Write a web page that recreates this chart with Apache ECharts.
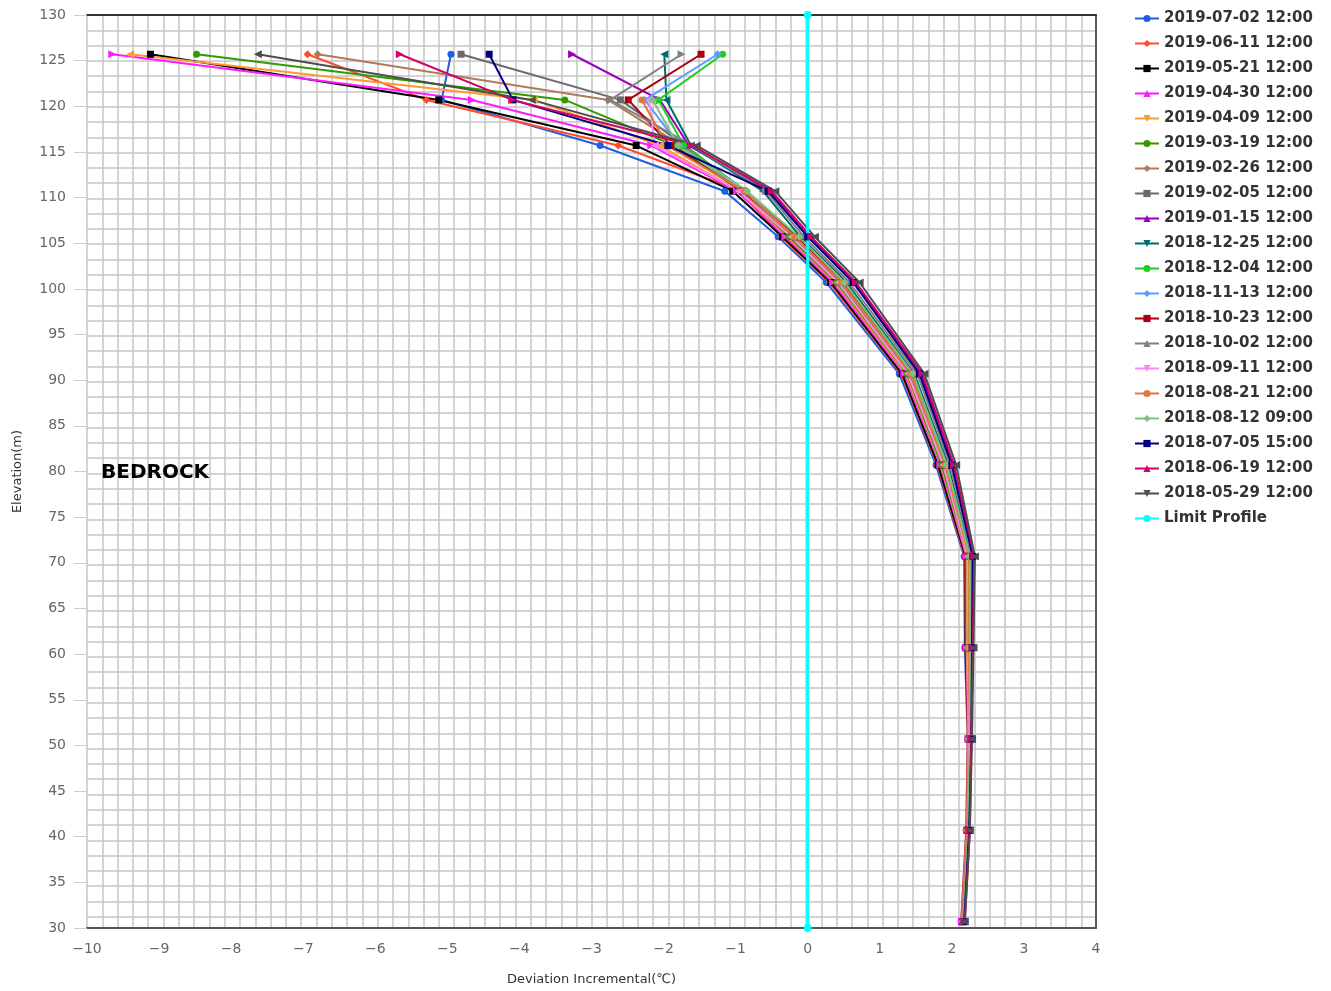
<!DOCTYPE html>
<html>
<head>
<meta charset="utf-8">
<title>Deviation Incremental Profile</title>
<script src="https://cdn.jsdelivr.net/npm/echarts@6/dist/echarts.min.js"></script>
<style>
  html, body { margin: 0; padding: 0; background: #ffffff; }
  #chart { width: 1331px; height: 991px; }
</style>
</head>
<body>
<div id="chart"></div>
<script>
// Sensor elevations (m), top to bottom
const elevations = [125.7, 120.7, 115.7, 110.7, 105.7, 100.7, 90.7, 80.7, 70.7, 60.7, 50.7, 40.7, 30.7];

// Deviation increments (°C) per reading, one value per elevation (null = no reading)
const d20190702 = [-4.95, -5.08, -2.88, -1.15, -0.41, 0.26, 1.27, 1.78, 2.17, 2.18, 2.22, 2.20, 2.13];
const d20190611 = [-6.94, -5.29, -2.63, -0.92, -0.37, 0.30, 1.30, 1.80, 2.18, 2.19, 2.22, 2.20, 2.13];
const d20190521 = [-9.12, -5.12, -2.38, -1.04, -0.35, 0.32, 1.31, 1.81, 2.19, 2.19, 2.23, 2.21, 2.14];
const d20190430 = [-9.65, -4.66, -2.17, -0.98, -0.31, 0.35, 1.34, 1.84, 2.20, 2.20, 2.23, 2.21, 2.14];
const d20190409 = [-9.40, -3.80, -2.05, -0.95, -0.28, 0.38, 1.36, 1.85, 2.21, 2.21, 2.23, 2.21, 2.14];
const d20190319 = [-8.48, -3.37, -1.85, -0.92, -0.26, 0.40, 1.38, 1.86, 2.22, 2.22, 2.24, 2.22, 2.15];
const d20190226 = [-6.80, -2.77, -1.75, -0.90, -0.21, 0.44, 1.41, 1.89, 2.23, 2.23, 2.24, 2.22, 2.15];
const d20190205 = [-4.81, -2.60, -1.70, -0.88, -0.18, 0.47, 1.43, 1.91, 2.24, 2.23, 2.25, 2.22, 2.15];
const d20190115 = [-3.27, -2.05, -1.65, -0.52, 0.02, 0.65, 1.57, 2.02, 2.30, 2.28, 2.27, 2.24, 2.17];
const d20181225 = [-1.99, -1.96, -1.62, -0.62, -0.10, 0.54, 1.48, 1.95, 2.26, 2.25, 2.26, 2.23, 2.16];
const d20181204 = [-1.18, -2.07, -1.72, -0.85, -0.13, 0.51, 1.46, 1.93, 2.25, 2.25, 2.25, 2.23, 2.16];
const d20181113 = [-1.25, -2.26, -1.78, -0.87, -0.16, 0.49, 1.45, 1.92, 2.25, 2.24, 2.25, 2.22, 2.15];
const d20181023 = [-1.48, -2.49, -1.90, -0.90, -0.15, 0.49, 1.45, 1.92, 2.25, 2.24, 2.25, 2.22, 2.15];
const d20181002 = [-1.75, -2.74, -1.60, -0.58, -0.05, 0.58, 1.52, 1.98, 2.28, 2.26, 2.26, 2.24, 2.17];
const d20180911 = [null, -2.20, -2.12, -0.95, -0.23, 0.42, 1.39, 1.88, 2.22, 2.22, 2.24, 2.22, 2.15];
const d20180821 = [null, -2.30, -1.95, -0.88, -0.18, 0.47, 1.43, 1.91, 2.24, 2.23, 2.25, 2.22, 2.15];
const d20180812 = [null, -2.15, -1.80, -0.84, -0.12, 0.51, 1.46, 1.93, 2.25, 2.25, 2.25, 2.23, 2.16];
const d20180705 = [-4.42, -4.09, -1.94, -0.55, 0.00, 0.63, 1.55, 2.00, 2.29, 2.28, 2.27, 2.24, 2.17];
const d20180619 = [-5.66, -4.10, -1.60, -0.50, 0.05, 0.67, 1.59, 2.03, 2.31, 2.29, 2.27, 2.25, 2.18];
const d20180529 = [-7.63, -3.83, -1.54, -0.45, 0.10, 0.72, 1.62, 2.06, 2.32, 2.30, 2.28, 2.25, 2.18];

// Limit profile: vertical line at zero deviation
const limitDeviation = [0, 0];
const limitElevation = [130, 30];

const readingNames = [
  '2019-07-02 12:00', '2019-06-11 12:00', '2019-05-21 12:00', '2019-04-30 12:00',
  '2019-04-09 12:00', '2019-03-19 12:00', '2019-02-26 12:00', '2019-02-05 12:00',
  '2019-01-15 12:00', '2018-12-25 12:00', '2018-12-04 12:00', '2018-11-13 12:00',
  '2018-10-23 12:00', '2018-10-02 12:00', '2018-09-11 12:00', '2018-08-21 12:00',
  '2018-08-12 09:00', '2018-07-05 15:00', '2018-06-19 12:00', '2018-05-29 12:00'
];
const readingValues = [
  d20190702, d20190611, d20190521, d20190430, d20190409, d20190319, d20190226,
  d20190205, d20190115, d20181225, d20181204, d20181113, d20181023, d20181002,
  d20180911, d20180821, d20180812, d20180705, d20180619, d20180529
];
const limitName = 'Limit Profile';

// Styling
const readingColors = [
  '#1f5fe0', '#ff4b2b', '#000000', '#ff1aff', '#ff9933', '#339900', '#b07a5a',
  '#6a6a6a', '#9900bb', '#006b6b', '#22cc22', '#5c9cff', '#aa0011', '#808080',
  '#ff88ee', '#e07840', '#80c080', '#000080', '#d6006b', '#4d4d4d'
];
const limitColor = '#00ffff';
// marker cycle: circle, diamond, square, triangle, triangle-down
const markerCycle = ['circle', 'diamond', 'rect', 'triangle', 'triangle'];
const markerSizes = [7, 8, 7, 8, 8];
const plotRotation = [0, 0, 0, -90, 90];   // markers turned with the vertical profile
const legendRotation = [0, 0, 0, 0, 180];

const PLOT = { left: 87, right: 235, top: 15, bottom: 62 };
const CELL = 15.3;
const plotW = 1331 - PLOT.left - PLOT.right;
const plotH = 991 - PLOT.top - PLOT.bottom;

const minusFmt = v => String(v).replace('-', '\u2212');

const series = readingNames.map((name, i) => {
  const k = i % 5;
  const pts = [];
  readingValues[i].forEach((v, j) => { if (v !== null) pts.push([v, elevations[j]]); });
  return {
    name: name,
    type: 'line',
    xAxisIndex: 0,
    yAxisIndex: 0,
    data: pts,
    symbol: markerCycle[k],
    symbolSize: markerSizes[k],
    symbolRotate: plotRotation[k],
    showAllSymbol: true,
    color: readingColors[i],
    lineStyle: { width: 2, color: readingColors[i] },
    itemStyle: { color: readingColors[i] },
    emphasis: { disabled: true }
  };
});

series.push({
  name: limitName,
  type: 'line',
  xAxisIndex: 0,
  yAxisIndex: 0,
  data: limitDeviation.map((v, j) => [v, limitElevation[j]]),
  symbol: 'circle',
  symbolSize: 8,
  color: limitColor,
  lineStyle: { width: 3, color: limitColor },
  itemStyle: { color: limitColor },
  emphasis: { disabled: true }
});

const legendData = readingNames.map((name, i) => ({ name: name, symbolRotate: legendRotation[i % 5] }));
legendData.push({ name: limitName, symbolRotate: 0 });

const option = {
  animation: false,
  backgroundColor: '#ffffff',
  grid: { left: PLOT.left, right: PLOT.right, top: PLOT.top, bottom: PLOT.bottom, containLabel: false },
  legend: {
    orient: 'vertical',
    left: 1129,
    top: 6,
    itemWidth: 24,
    itemHeight: 9,
    itemGap: 10,
    data: legendData,
    textStyle: { fontFamily: 'DejaVu Sans', fontWeight: 'bold', fontSize: 15, color: '#333333' },
    selectedMode: false
  },
  xAxis: [
    {
      type: 'value',
      min: -10,
      max: 4,
      interval: 1,
      position: 'bottom',
      name: 'Deviation Incremental(\u2103)',
      nameLocation: 'middle',
      nameGap: 45,
      nameTextStyle: { fontFamily: 'DejaVu Sans', fontSize: 13, color: '#333333' },
      axisLine: { show: true, onZero: false, lineStyle: { color: '#555555', width: 2 } },
      axisTick: { show: false },
      axisLabel: { margin: 14, fontFamily: 'DejaVu Sans', fontSize: 14, color: '#666666', formatter: minusFmt },
      splitLine: { show: false }
    },
    {
      // square background grid, laid out from the left edge
      type: 'value',
      min: 0,
      max: plotW / CELL,
      interval: 1,
      position: 'top',
      axisLine: { show: true, onZero: false, lineStyle: { color: '#333333', width: 2 } },
      axisTick: { show: false },
      axisLabel: { show: false },
      splitLine: { show: true, lineStyle: { color: '#c6c6c6', width: 1.5 } }
    }
  ],
  yAxis: [
    {
      type: 'value',
      min: 30,
      max: 130,
      interval: 5,
      position: 'left',
      name: 'Elevation(m)',
      nameLocation: 'middle',
      nameGap: 63,
      nameTextStyle: { fontFamily: 'DejaVu Sans', fontSize: 13, color: '#333333' },
      axisLine: { show: false, onZero: false },
      axisTick: { show: true, length: 13, lineStyle: { color: '#c0d0e0', width: 1 } },
      axisLabel: { margin: 21, fontFamily: 'DejaVu Sans', fontSize: 14, color: '#666666', formatter: minusFmt },
      splitLine: { show: false }
    },
    {
      // square background grid, laid out from the top edge
      type: 'value',
      min: 0,
      max: plotH / CELL,
      interval: 1,
      inverse: true,
      position: 'right',
      axisLine: { show: true, onZero: false, lineStyle: { color: '#333333', width: 1.5 } },
      axisTick: { show: false },
      axisLabel: { show: false },
      splitLine: { show: true, lineStyle: { color: '#c6c6c6', width: 1.5 } }
    }
  ],
  graphic: [
    {
      type: 'text',
      left: 101,
      top: 463,
      z: 100,
      style: { text: 'BEDROCK', font: 'bold 20px "DejaVu Sans"', fill: '#000000' }
    }
  ],
  series: series
};

const chart = echarts.init(document.getElementById('chart'), null, { renderer: 'canvas' });
chart.setOption(option);
</script>
</body>
</html>
